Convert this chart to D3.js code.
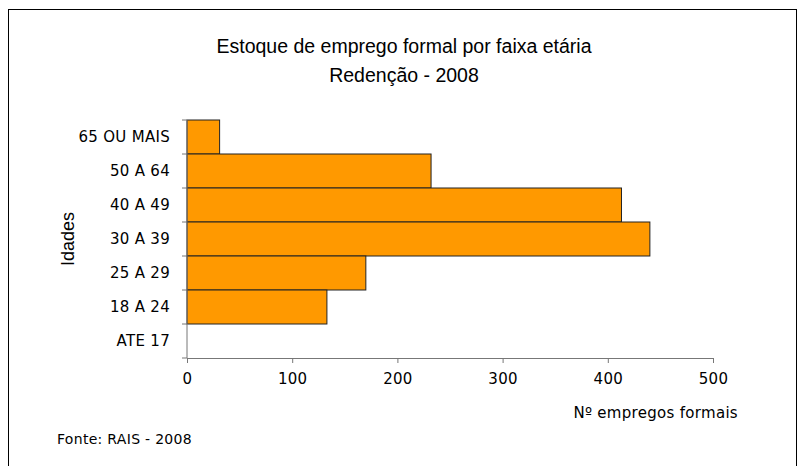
<!DOCTYPE html>
<html>
<head>
<meta charset="utf-8">
<script src="https://cdn.jsdelivr.net/npm/d3@7"></script>
<style>
  body { margin: 0; background: #fff; }
  svg text { fill: #000; }
  .tick-label { font-family: "DejaVu Sans", Verdana, sans-serif; font-size: 15px; letter-spacing: 0.3px; }
</style>
</head>
<body>
<svg id="chart" width="805" height="466"></svg>
<script>
// age groups, top to bottom
const categories = ["65 OU MAIS", "50 A 64", "40 A 49", "30 A 39", "25 A 29", "18 A 24", "ATE 17"];
const values = [31, 232, 413, 440, 170, 133, 0];
const xTicks = [0, 100, 200, 300, 400, 500];

const svg = d3.select("#chart");

// outer frame
svg.append("rect")
    .attr("x", 8.5).attr("y", 9.5)
    .attr("width", 788).attr("height", 470)
    .attr("fill", "none").attr("stroke", "#000");

const plot = { left: 187, right: 713, top: 120, bottom: 358 };

const x = d3.scaleLinear().domain([0, 500]).range([plot.left, plot.right]);
const y = d3.scaleBand().domain(categories).range([plot.top, plot.bottom]).padding(0);

// titles
svg.append("text")
    .attr("x", 404).attr("y", 53)
    .attr("text-anchor", "middle")
    .style("font-family", "Liberation Sans, Arial, sans-serif")
    .style("font-size", "19.5px")
    .text("Estoque de emprego formal por faixa etária");
svg.append("text")
    .attr("x", 404).attr("y", 82)
    .attr("text-anchor", "middle")
    .style("font-family", "Liberation Sans, Arial, sans-serif")
    .style("font-size", "19.5px")
    .text("Redenção - 2008");

// bars
svg.append("g")
    .selectAll("rect")
    .data(values)
    .join("rect")
    .attr("x", x(0))
    .attr("y", (d, i) => y(categories[i]))
    .attr("width", d => x(d) - x(0))
    .attr("height", y.bandwidth())
    .attr("fill", "#FF9900")
    .attr("stroke", d => d > 0 ? "#222" : "none")
    .attr("stroke-width", 1);

// y axis: line + ticks at band edges
const yAxis = svg.append("g");
yAxis.append("line")
    .attr("x1", plot.left).attr("x2", plot.left)
    .attr("y1", plot.top).attr("y2", plot.bottom)
    .attr("stroke", "#777");
const edges = categories.map(c => y(c)).concat([plot.bottom]);
yAxis.selectAll("line.edge")
    .data(edges)
    .join("line")
    .attr("class", "edge")
    .attr("x1", plot.left - 5).attr("x2", plot.left)
    .attr("y1", d => d).attr("y2", d => d)
    .attr("stroke", "#777");
yAxis.selectAll("text")
    .data(categories)
    .join("text")
    .attr("class", "tick-label")
    .attr("x", 170)
    .attr("y", d => y(d) + y.bandwidth() / 2 + 5)
    .attr("text-anchor", "end")
    .text(d => d);

// x axis
const xAxis = svg.append("g")
    .attr("transform", `translate(0,${plot.bottom})`)
    .call(d3.axisBottom(x).tickValues(xTicks).tickSize(5).tickPadding(10));
xAxis.select(".domain").attr("stroke", "#777");
xAxis.selectAll(".tick line").attr("stroke", "#777");
xAxis.selectAll(".tick text")
    .attr("class", "tick-label")
    .attr("fill", "#000");

// axis titles
svg.append("text")
    .attr("transform", `translate(74,${(plot.top + plot.bottom) / 2}) rotate(-90)`)
    .attr("text-anchor", "middle")
    .style("font-family", "Liberation Sans, Arial, sans-serif")
    .style("font-size", "18px")
    .text("Idades");
svg.append("text")
    .attr("class", "tick-label")
    .attr("x", 738).attr("y", 418)
    .attr("text-anchor", "end")
    .text("Nº empregos formais");

svg.append("text")
    .attr("x", 57).attr("y", 444)
    .style("font-family", "DejaVu Sans, Verdana, sans-serif")
    .style("font-size", "14px")
    .style("letter-spacing", "0.3px")
    .text("Fonte: RAIS - 2008");
</script>
</body>
</html>
